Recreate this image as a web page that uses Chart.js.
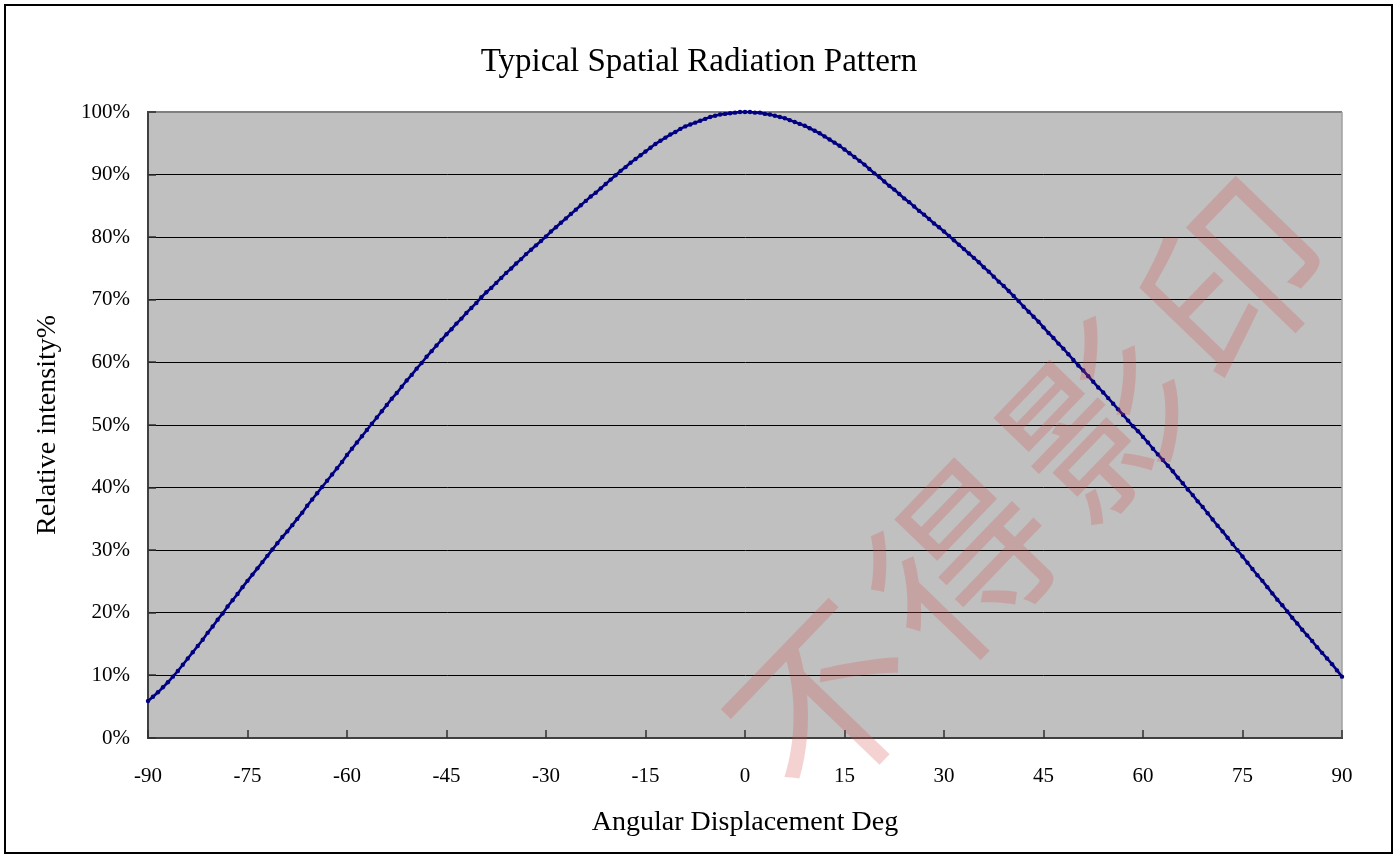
<!DOCTYPE html>
<html>
<head>
<meta charset="utf-8">
<title>Typical Spatial Radiation Pattern</title>
<script src="https://cdn.jsdelivr.net/npm/chart.js@4.4.1/dist/chart.umd.min.js"></script>
<style>
  html, body { margin: 0; padding: 0; background: #fff; }
  canvas { display: block; }
</style>
</head>
<body>
<canvas id="patternChart" width="1400" height="855"></canvas>
<script>
// Angular displacement (deg), one sample every 0.75 deg
const angles = [
  -90, -89.25, -88.5, -87.75, -87, -86.25, -85.5, -84.75, -84, -83.25, -82.5, -81.75, -81, -80.25, -79.5, -78.75, -78, -77.25, -76.5, -75.75,
  -75, -74.25, -73.5, -72.75, -72, -71.25, -70.5, -69.75, -69, -68.25, -67.5, -66.75, -66, -65.25, -64.5, -63.75, -63, -62.25, -61.5, -60.75,
  -60, -59.25, -58.5, -57.75, -57, -56.25, -55.5, -54.75, -54, -53.25, -52.5, -51.75, -51, -50.25, -49.5, -48.75, -48, -47.25, -46.5, -45.75,
  -45, -44.25, -43.5, -42.75, -42, -41.25, -40.5, -39.75, -39, -38.25, -37.5, -36.75, -36, -35.25, -34.5, -33.75, -33, -32.25, -31.5, -30.75,
  -30, -29.25, -28.5, -27.75, -27, -26.25, -25.5, -24.75, -24, -23.25, -22.5, -21.75, -21, -20.25, -19.5, -18.75, -18, -17.25, -16.5, -15.75,
  -15, -14.25, -13.5, -12.75, -12, -11.25, -10.5, -9.75, -9, -8.25, -7.5, -6.75, -6, -5.25, -4.5, -3.75, -3, -2.25, -1.5, -0.75,
  0, 0.75, 1.5, 2.25, 3, 3.75, 4.5, 5.25, 6, 6.75, 7.5, 8.25, 9, 9.75, 10.5, 11.25, 12, 12.75, 13.5, 14.25,
  15, 15.75, 16.5, 17.25, 18, 18.75, 19.5, 20.25, 21, 21.75, 22.5, 23.25, 24, 24.75, 25.5, 26.25, 27, 27.75, 28.5, 29.25,
  30, 30.75, 31.5, 32.25, 33, 33.75, 34.5, 35.25, 36, 36.75, 37.5, 38.25, 39, 39.75, 40.5, 41.25, 42, 42.75, 43.5, 44.25,
  45, 45.75, 46.5, 47.25, 48, 48.75, 49.5, 50.25, 51, 51.75, 52.5, 53.25, 54, 54.75, 55.5, 56.25, 57, 57.75, 58.5, 59.25,
  60, 60.75, 61.5, 62.25, 63, 63.75, 64.5, 65.25, 66, 66.75, 67.5, 68.25, 69, 69.75, 70.5, 71.25, 72, 72.75, 73.5, 74.25,
  75, 75.75, 76.5, 77.25, 78, 78.75, 79.5, 80.25, 81, 81.75, 82.5, 83.25, 84, 84.75, 85.5, 86.25, 87, 87.75, 88.5, 89.25,
  90
];

// Relative intensity (%)
const intensity = [
  5.9, 6.6, 7.3, 8.1, 8.9, 9.8, 10.7, 11.7, 12.7, 13.7, 14.7, 15.7, 16.8, 17.8, 18.9, 19.9, 21.0, 22.0, 23.0, 24.1,
  25.1, 26.1, 27.1, 28.1, 29.1, 30.1, 31.1, 32.1, 33.0, 34.0, 35.0, 36.0, 37.1, 38.1, 39.1, 40.1, 41.1, 42.1, 43.1, 44.1,
  45.2, 46.2, 47.2, 48.2, 49.2, 50.2, 51.2, 52.2, 53.2, 54.2, 55.1, 56.1, 57.1, 58.0, 59.0, 59.9, 60.9, 61.8, 62.7, 63.6,
  64.5, 65.3, 66.2, 67.0, 67.9, 68.7, 69.5, 70.4, 71.2, 71.9, 72.7, 73.5, 74.3, 75.0, 75.8, 76.5, 77.3, 78.0, 78.7, 79.4,
  80.1, 80.9, 81.6, 82.3, 83.0, 83.7, 84.4, 85.1, 85.8, 86.5, 87.1, 87.8, 88.5, 89.2, 89.9, 90.6, 91.2, 91.9, 92.5, 93.1,
  93.7, 94.3, 94.9, 95.4, 95.9, 96.4, 96.8, 97.3, 97.7, 98.0, 98.3, 98.6, 98.9, 99.2, 99.4, 99.6, 99.7, 99.8, 99.9, 100.0,
  100.0, 100.0, 99.9, 99.9, 99.7, 99.6, 99.4, 99.2, 99.0, 98.7, 98.4, 98.1, 97.8, 97.4, 97.0, 96.6, 96.1, 95.6, 95.1, 94.6,
  94.0, 93.4, 92.8, 92.2, 91.6, 90.9, 90.2, 89.6, 88.9, 88.2, 87.6, 86.9, 86.2, 85.6, 84.9, 84.2, 83.6, 82.9, 82.2, 81.6,
  80.9, 80.2, 79.5, 78.8, 78.1, 77.4, 76.7, 76.0, 75.2, 74.5, 73.7, 72.9, 72.2, 71.4, 70.6, 69.8, 68.9, 68.1, 67.3, 66.5,
  65.6, 64.7, 63.9, 63.0, 62.2, 61.3, 60.4, 59.5, 58.7, 57.8, 56.9, 56.0, 55.2, 54.3, 53.4, 52.5, 51.6, 50.7, 49.8, 49.0,
  48.1, 47.2, 46.2, 45.3, 44.4, 43.5, 42.6, 41.6, 40.7, 39.7, 38.8, 37.8, 36.9, 35.9, 34.9, 33.9, 33.0, 32.0, 31.0, 30.0,
  29.0, 28.0, 27.0, 26.0, 25.1, 24.1, 23.1, 22.1, 21.2, 20.2, 19.2, 18.3, 17.3, 16.4, 15.5, 14.5, 13.6, 12.7, 11.8, 10.8,
  9.8
];

// Axis ticks
const xTicks = [-90, -75, -60, -45, -30, -15, 0, 15, 30, 45, 60, 75, 90];
const yTicks = [0, 10, 20, 30, 40, 50, 60, 70, 80, 90, 100];

const titleText = 'Typical Spatial Radiation Pattern';
const xTitle = 'Angular Displacement Deg';
const yTitle = 'Relative intensity%';
const watermark = '不得影印';

const serif = '"Liberation Serif", "Times New Roman", serif';

// grey plot background, plot frame, inside tick marks, title, watermark, outer frame
const framePlugin = {
  id: 'framePlugin',
  beforeDraw(chart) {
    const { ctx, chartArea: a } = chart;
    ctx.save();
    ctx.fillStyle = '#fff';
    ctx.fillRect(0, 0, chart.width, chart.height);
    ctx.fillStyle = '#c0c0c0';
    ctx.fillRect(a.left, a.top, a.right - a.left, a.bottom - a.top);
    ctx.restore();
  },
  beforeDatasetsDraw(chart) {
    const { ctx, chartArea: a, scales } = chart;
    ctx.save();
    // top + right border of the plot
    ctx.strokeStyle = '#808080';
    ctx.lineWidth = 2;
    ctx.beginPath();
    ctx.moveTo(a.left, a.top);
    ctx.lineTo(a.right, a.top);
    ctx.stroke();
    ctx.strokeStyle = '#a0a0a0';
    ctx.lineWidth = 1.5;
    ctx.beginPath();
    ctx.moveTo(a.right, a.top);
    ctx.lineTo(a.right, a.bottom);
    ctx.stroke();
    // tick marks pointing inward
    ctx.strokeStyle = '#303030';
    ctx.lineWidth = 1.5;
    xTicks.forEach(v => {
      const px = Math.round(scales.x.getPixelForValue(v));
      ctx.beginPath();
      ctx.moveTo(px, a.bottom);
      ctx.lineTo(px, a.bottom - 8);
      ctx.stroke();
    });
    yTicks.forEach(v => {
      const py = Math.round(scales.y.getPixelForValue(v));
      ctx.beginPath();
      ctx.moveTo(a.left, py);
      ctx.lineTo(a.left + 8, py);
      ctx.stroke();
    });
    ctx.restore();
  },
  afterDraw(chart) {
    const { ctx } = chart;
    // chart title
    ctx.save();
    ctx.font = '33px ' + serif;
    ctx.fillStyle = '#000';
    ctx.textAlign = 'center';
    ctx.textBaseline = 'middle';
    ctx.fillText(titleText, 699, 62);
    ctx.restore();

    // watermark
    ctx.save();
    ctx.translate(1035, 485);
    ctx.rotate(-46 * Math.PI / 180);
    ctx.font = '180px "Noto Sans CJK TC"';
    ctx.letterSpacing = '16px';
    ctx.fillStyle = 'rgba(215, 80, 80, 0.26)';
    ctx.textAlign = 'center';
    ctx.textBaseline = 'middle';
    ctx.fillText(watermark, 0, 0);
    ctx.restore();

    ctx.save();
    ctx.strokeStyle = '#000';
    ctx.lineWidth = 2;
    ctx.strokeRect(5, 5, 1387, 848);
    ctx.restore();
  }
};

const ctx = document.getElementById('patternChart').getContext('2d');
const patternChart = new Chart(ctx, {
  type: 'line',
  data: {
    datasets: [{
      label: 'Relative intensity',
      data: angles.map((a, i) => ({ x: a, y: intensity[i] })),
      borderColor: '#000080',
      backgroundColor: '#000080',
      borderWidth: 2.6,
      pointRadius: 2.2,
      pointBorderWidth: 0,
      pointHoverRadius: 2.2,
      tension: 0,
      clip: false
    }]
  },
  options: {
    responsive: false,
    animation: false,
    devicePixelRatio: 1,
    layout: { padding: { left: 31, right: 58, top: 112, bottom: 16 } },
    plugins: {
      legend: { display: false },
      tooltip: { enabled: false },
      title: { display: false }
    },
    scales: {
      x: {
        type: 'linear',
        min: -90,
        max: 90,
        afterBuildTicks: s => { s.ticks = xTicks.map(v => ({ value: v })); },
        grid: { display: true, drawOnChartArea: false, drawTicks: false },
        border: { display: true, color: '#404040', width: 2 },
        ticks: {
          color: '#000',
          font: { family: serif, size: 21 },
          padding: 26,
          maxRotation: 0,
          autoSkip: false
        },
        title: {
          display: true,
          text: xTitle,
          color: '#000',
          font: { family: serif, size: 28 },
          padding: 0
        },
        afterFit: s => { s.height = 101; }
      },
      y: {
        min: 0,
        max: 100,
        afterBuildTicks: s => { s.ticks = yTicks.map(v => ({ value: v })); },
        grid: {
          color: c => (c.tick && c.tick.value === 100) ? 'rgba(0,0,0,0)' : '#000',
          lineWidth: 1,
          drawTicks: false
        },
        border: { display: true, color: '#404040', width: 2 },
        ticks: {
          color: '#000',
          font: { family: serif, size: 21 },
          padding: 18,
          callback: v => v + '%'
        },
        title: {
          display: true,
          text: yTitle,
          color: '#000',
          font: { family: serif, size: 28 },
          padding: 0
        },
        afterFit: s => { s.width = 117; }
      }
    }
  },
  plugins: [framePlugin]
});
</script>
</body>
</html>
